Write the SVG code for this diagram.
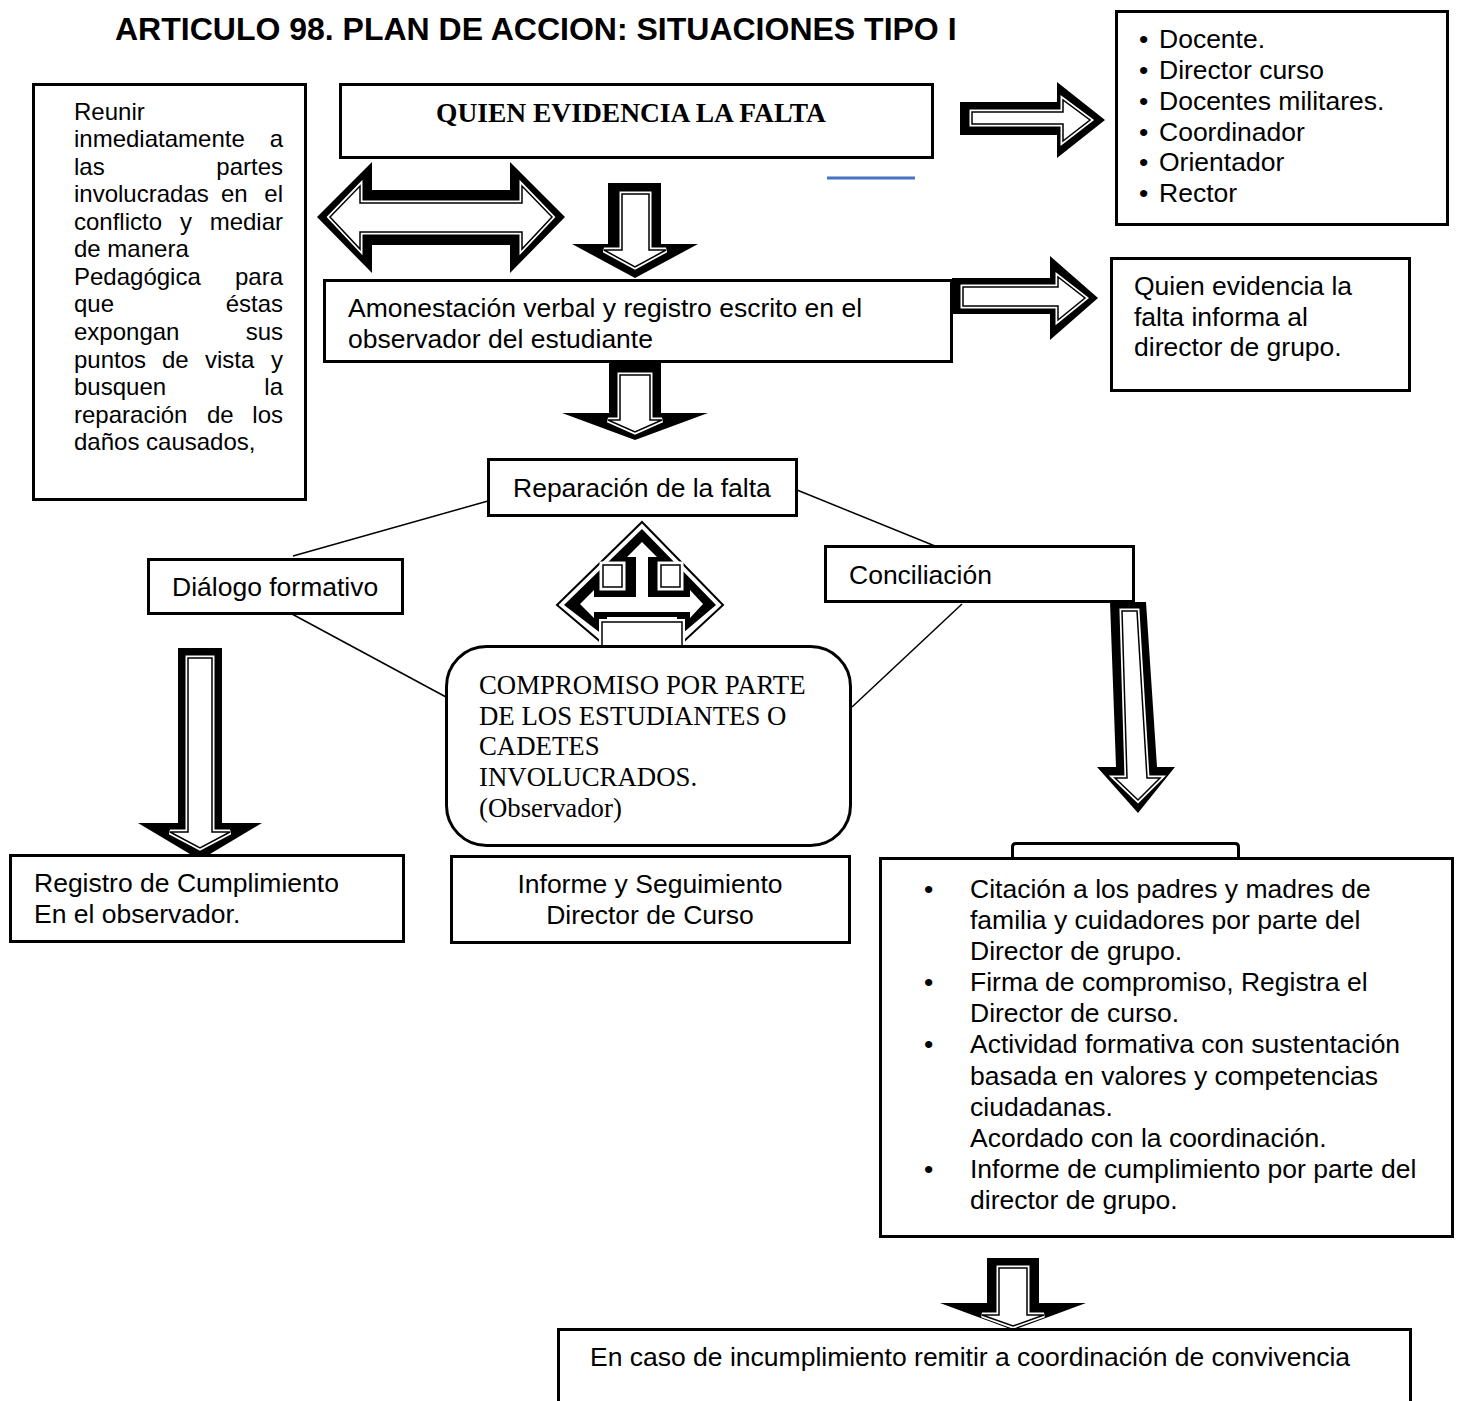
<svg xmlns="http://www.w3.org/2000/svg" width="1458" height="1401" viewBox="0 0 1458 1401">
<style>
.box{fill:#fff;stroke:#000;stroke-width:3}
.t{font-family:"Liberation Sans",Arial,sans-serif;font-size:26.5px;fill:#000}
.tr{font-family:"Liberation Sans",Arial,sans-serif;font-size:26.5px;fill:#000}
.tl{font-family:"Liberation Sans",Arial,sans-serif;font-size:24px;fill:#000}
.ts{font-family:"Liberation Serif","Times New Roman",serif;font-size:26.8px;fill:#000}
.ln{stroke:#000;stroke-width:1.5;fill:none}
.ao{fill:#000}
.ai{fill:#fff;stroke:#fff;stroke-width:5;stroke-linejoin:miter}
.ak{fill:none;stroke:#000;stroke-width:1.5;stroke-linejoin:miter}
</style>
<rect width="1458" height="1401" fill="#fff"/>
<text x="115" y="40" font-family="Liberation Sans,Arial,sans-serif" font-size="32" font-weight="bold">ARTICULO 98. PLAN DE ACCION: SITUACIONES TIPO I</text>

<g id="connectors">
  <line class="ln" x1="488" y1="501" x2="293" y2="556"/>
  <line class="ln" x1="292" y1="614" x2="446" y2="697"/>
  <line class="ln" x1="797" y1="490" x2="935" y2="546"/>
  <line class="ln" x1="962" y1="604" x2="852" y2="707"/>
  <line x1="827" y1="178" x2="915" y2="178" stroke="#4472C4" stroke-width="3"/>
  <g id="arrow-double">
    <polygon class="ao" points="317,217 372,162 372,190 510,190 510,162 565,217 510,273 510,245 372,245 372,273"/>
    <polygon class="ai" points="330,217 360,186 360,203 522,203 522,186 552,217 522,249 522,232 360,232 360,249"/>
    <polygon class="ak" points="330,217 360,186 360,203 522,203 522,186 552,217 522,249 522,232 360,232 360,249"/>
  </g>
  <g id="arrow-down1">
    <polygon class="ao" points="608,183 661,183 661,244 698,244 635,278 572,244 608,244"/>
    <polygon class="ai" points="622,194 649,194 649,250 666,250 635,267 604,250 622,250"/>
    <polygon class="ak" points="622,194 649,194 649,250 666,250 635,267 604,250 622,250"/>
  </g>
  <g id="arrow-right1">
    <polygon class="ao" points="960,102 1057,102 1057,82 1105,120 1057,158 1057,135 960,135"/>
    <polygon class="ai" points="972,112 1063,112 1063,100 1090,120 1063,141 1063,124 972,124"/>
    <polygon class="ak" points="972,112 1063,112 1063,100 1090,120 1063,141 1063,124 972,124"/>
  </g>
  <g id="arrow-right2">
    <polygon class="ao" points="952,278 1050,278 1050,256 1098,298 1050,340 1050,314 952,314"/>
    <polygon class="ai" points="963,287 1058,287 1058,277 1085,298 1058,320 1058,306 963,306"/>
    <polygon class="ak" points="963,287 1058,287 1058,277 1085,298 1058,320 1058,306 963,306"/>
  </g>
  <g id="arrow-down2">
    <polygon class="ao" points="609,362 661,362 661,413 708,413 635,440 562,413 609,413"/>
    <polygon class="ai" points="620,375 650,375 650,420 662,420 635,432 608,420 620,420"/>
    <polygon class="ak" points="620,375 650,375 650,420 662,420 635,432 608,420 620,420"/>
  </g>
  <g id="arrow-4way">
    <polygon points="642,522 723,605 682,643 682,622 602,622 602,643 557,605" fill="#fff" stroke="#000" stroke-width="2"/>
    <polygon class="ao" points="642,529 716,605 677,638 677,617 607,617 607,638 564,605"/>
    <polygon fill="#fff" points="642,542 657,557 648,557 648,597 690,597 690,590 703,604 690,618 690,612 594,612 594,618 580,604 594,590 594,597 636,597 636,557 627,557"/>
    <rect x="603" y="565" width="19" height="22" fill="#fff" stroke="#fff" stroke-width="7"/>
    <rect x="603" y="565" width="19" height="22" fill="#fff" stroke="#000" stroke-width="1.5"/>
    <rect x="661" y="565" width="19" height="22" fill="#fff" stroke="#fff" stroke-width="7"/>
    <rect x="661" y="565" width="19" height="22" fill="#fff" stroke="#000" stroke-width="1.5"/>
    <rect x="602" y="622" width="80" height="24" fill="#fff" stroke="#fff" stroke-width="6"/>
    <rect x="602" y="622" width="80" height="24" fill="#fff" stroke="#000" stroke-width="1.5"/>
  </g>
  <g id="arrow-slant">
    <polygon class="ao" points="1110,602 1146,602 1157,767 1175,767 1138,813 1097,767 1116,767"/>
    <polygon class="ai" points="1122,611 1137,611 1147,778 1160,778 1138,800 1115,778 1127,778"/>
    <polygon class="ak" points="1122,611 1137,611 1147,778 1160,778 1138,800 1115,778 1127,778"/>
  </g>
  <g id="arrow-downL">
    <polygon class="ao" points="178,648 222,648 222,823 262,823 200,860 138,823 178,823"/>
    <polygon class="ai" points="188,658 212,658 212,832 230,832 200,848 170,832 188,832"/>
    <polygon class="ak" points="188,658 212,658 212,832 230,832 200,848 170,832 188,832"/>
  </g>
  <g id="arrow-bottom">
    <polygon class="ao" points="987,1258 1039,1258 1039,1303 1086,1303 1013,1330 940,1303 987,1303"/>
    <polygon class="ai" points="999,1268 1027,1268 1027,1315 1044,1315 1013,1326 982,1315 999,1315"/>
    <polygon class="ak" points="999,1268 1027,1268 1027,1315 1044,1315 1013,1326 982,1315 999,1315"/>
  </g>
</g>

<g id="node-left">
  <rect class="box" x="33.5" y="84.5" width="272" height="415"/>
  <g class="tl">
    <text x="74" y="120">Reunir</text>
    <text x="74" y="147">inmediatamente</text><text x="283" y="147" text-anchor="end">a</text>
    <text x="74" y="175">las</text><text x="283" y="175" text-anchor="end">partes</text>
    <text x="74" y="202">involucradas</text><text x="221" y="202">en</text><text x="283" y="202" text-anchor="end">el</text>
    <text x="74" y="230">conflicto</text><text x="180" y="230">y</text><text x="283" y="230" text-anchor="end">mediar</text>
    <text x="74" y="257">de manera</text>
    <text x="74" y="285">Pedagógica</text><text x="283" y="285" text-anchor="end">para</text>
    <text x="74" y="312">que</text><text x="283" y="312" text-anchor="end">éstas</text>
    <text x="74" y="340">expongan</text><text x="283" y="340" text-anchor="end">sus</text>
    <text x="74" y="368">puntos</text><text x="162" y="368">de</text><text x="205" y="368">vista</text><text x="283" y="368" text-anchor="end">y</text>
    <text x="74" y="395">busquen</text><text x="283" y="395" text-anchor="end">la</text>
    <text x="74" y="423">reparación</text><text x="207" y="423">de</text><text x="283" y="423" text-anchor="end">los</text>
    <text x="74" y="450">daños causados,</text>
  </g>
</g>

<g id="node-quien">
  <rect class="box" x="340.5" y="84.5" width="592" height="73"/>
  <text class="ts" x="436" y="122" style="font-weight:bold;font-size:27.5px">QUIEN EVIDENCIA LA FALTA</text>
</g>

<g id="node-roles">
  <rect class="box" x="1116.5" y="11.5" width="331" height="213"/>
  <g class="tr">
    <text x="1139" y="48">•</text><text x="1159" y="48">Docente.</text>
    <text x="1139" y="79">•</text><text x="1159" y="79">Director curso</text>
    <text x="1139" y="110">•</text><text x="1159" y="110">Docentes militares.</text>
    <text x="1139" y="141">•</text><text x="1159" y="141">Coordinador</text>
    <text x="1139" y="171">•</text><text x="1159" y="171">Orientador</text>
    <text x="1139" y="202">•</text><text x="1159" y="202">Rector</text>
  </g>
</g>

<g id="node-amonestacion">
  <rect class="box" x="324.5" y="280.5" width="627" height="81"/>
  <text class="t" x="348" y="317">Amonestación verbal y registro escrito en el</text>
  <text class="t" x="348" y="348">observador del estudiante</text>
</g>

<g id="node-informa">
  <rect class="box" x="1111.5" y="258.5" width="298" height="132"/>
  <g class="tr">
    <text x="1134" y="295">Quien evidencia la</text>
    <text x="1134" y="326">falta informa al</text>
    <text x="1134" y="356">director de grupo.</text>
  </g>
</g>

<g id="node-reparacion">
  <rect class="box" x="488.5" y="459.5" width="308" height="56"/>
  <text class="t" x="513" y="497">Reparación de la falta</text>
</g>

<g id="node-dialogo">
  <rect class="box" x="148.5" y="559.5" width="254" height="54"/>
  <text class="t" x="172" y="596">Diálogo formativo</text>
</g>

<g id="node-conciliacion">
  <rect class="box" x="825.5" y="546.5" width="308" height="55"/>
  <text class="t" x="849" y="584">Conciliación</text>
</g>

<g id="node-compromiso">
  <rect class="box" x="446.5" y="646.5" width="404" height="199" rx="40" ry="40"/>
  <g class="ts">
    <text x="479" y="694">COMPROMISO POR PARTE</text>
    <text x="479" y="725">DE LOS ESTUDIANTES O</text>
    <text x="479" y="755">CADETES</text>
    <text x="479" y="786">INVOLUCRADOS.</text>
    <text x="479" y="817">(Observador)</text>
  </g>
</g>

<g id="node-registro">
  <rect class="box" x="10.5" y="855.5" width="393" height="86"/>
  <text class="t" x="34" y="892">Registro de Cumplimiento</text>
  <text class="t" x="34" y="923">En el observador.</text>
</g>

<g id="node-informe">
  <rect class="box" x="451.5" y="856.5" width="398" height="86"/>
  <text class="t" x="650" y="893" text-anchor="middle">Informe y Seguimiento</text>
  <text class="t" x="650" y="924" text-anchor="middle">Director de Curso</text>
</g>

<g id="node-acciones">
  <path d="M1012.5,860 V847 Q1012.5,843.5 1016,843.5 H1235 Q1238.5,843.5 1238.5,847 V860" fill="#fff" stroke="#000" stroke-width="3"/>
  <rect class="box" x="880.5" y="858.5" width="572" height="378"/>
  <g class="t">
    <text x="924" y="898">•</text>
    <text x="970" y="898">Citación a los padres y madres de</text>
    <text x="970" y="929">familia y cuidadores por parte del</text>
    <text x="970" y="960">Director de grupo.</text>
    <text x="924" y="991">•</text>
    <text x="970" y="991">Firma de compromiso, Registra el</text>
    <text x="970" y="1022">Director de curso.</text>
    <text x="924" y="1053">•</text>
    <text x="970" y="1053">Actividad formativa con sustentación</text>
    <text x="970" y="1085">basada en valores y competencias</text>
    <text x="970" y="1116">ciudadanas.</text>
    <text x="970" y="1147">Acordado con la coordinación.</text>
    <text x="924" y="1178">•</text>
    <text x="970" y="1178">Informe de cumplimiento por parte del</text>
    <text x="970" y="1209">director de grupo.</text>
  </g>
</g>

<g id="node-incumplimiento">
  <path d="M558.5,1405 V1329.5 H1410.5 V1405" fill="#fff" stroke="#000" stroke-width="3"/>
  <text class="t" x="590" y="1366">En caso de incumplimiento remitir a coordinación de convivencia</text>
</g>
</svg>
